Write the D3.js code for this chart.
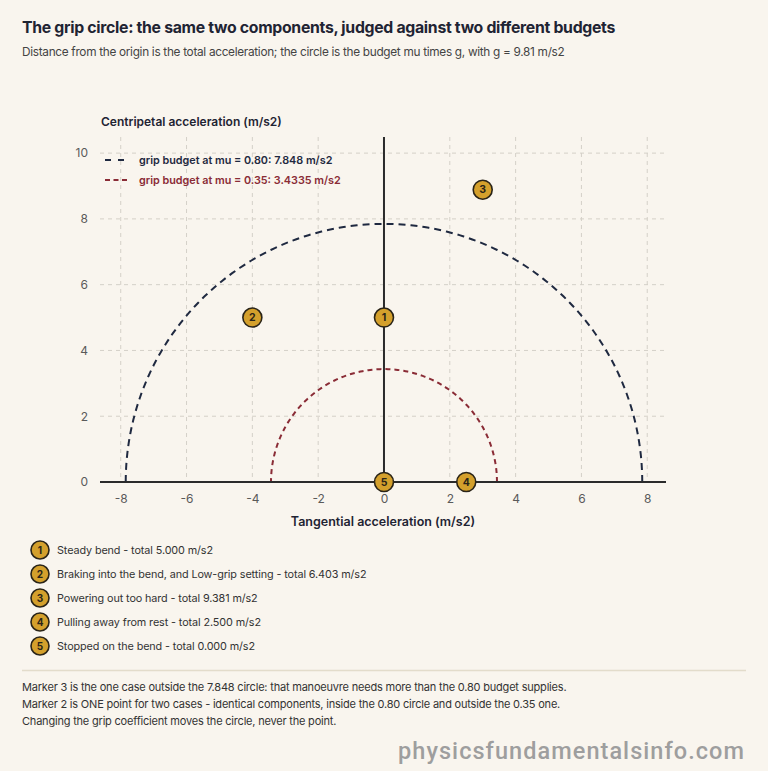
<!DOCTYPE html>
<html><head><meta charset="utf-8">
<script src="https://cdn.jsdelivr.net/npm/d3@7"></script>
<style>
html,body{margin:0;padding:0;background:#f9f5ee;}
svg{display:block;}
</style></head>
<body><svg id="c" width="768" height="771"></svg>
<script>
const g0 = 9.81;
const budgetMu = [0.80, 0.35];
const budgetRadius = [7.848, 3.4335];
const budgetLabels = ["grip budget at mu = 0.80: 7.848 m/s2", "grip budget at mu = 0.35: 3.4335 m/s2"];
const budgetColors = ["#1f2940", "#8a2c36"];
const budgetDash = ["7,5", "5,4"];
const markerIds = [1, 2, 3, 4, 5];
const markerTangential = [0, -4, 3, 2.5, 0];
const markerCentripetal = [5, 5, 8.888, 0, 0];
const markerLabels = [
  "Steady bend - total 5.000 m/s2",
  "Braking into the bend, and Low-grip setting - total 6.403 m/s2",
  "Powering out too hard - total 9.381 m/s2",
  "Pulling away from rest - total 2.500 m/s2",
  "Stopped on the bend - total 0.000 m/s2"
];
const xTicks = [-8, -6, -4, -2, 0, 2, 4, 6, 8];
const yTicks = [0, 2, 4, 6, 8, 10];
const notes = [
  "Marker 3 is the one case outside the 7.848 circle: that manoeuvre needs more than the 0.80 budget supplies.",
  "Marker 2 is ONE point for two cases - identical components, inside the 0.80 circle and outside the 0.35 one.",
  "Changing the grip coefficient moves the circle, never the point."
];

const svg = d3.select("#c");
const FONT = "Inter, 'Noto Sans', sans-serif";
const ink = "#1f2433";
const grey = "#5a5a5a";

svg.append("text").attr("x", 22).attr("y", 33).attr("font-family", FONT)
  .attr("font-size", 15.8).attr("font-weight", 700).attr("fill", ink).attr("letter-spacing", -0.3)
  .text("The grip circle: the same two components, judged against two different budgets");
svg.append("text").attr("x", 22).attr("y", 56).attr("font-family", FONT)
  .attr("font-size", 11.8).attr("fill", "#444").attr("letter-spacing", -0.3)
  .text("Distance from the origin is the total acceleration; the circle is the budget mu times g, with g = 9.81 m/s2");

const x = d3.scaleLinear().domain([-8.63, 8.57]).range([100, 666]);
const y = d3.scaleLinear().domain([0, 10.49]).range([482, 137]);

// grid
const gridG = svg.append("g");
gridG.selectAll(".vg").data(xTicks).join("line")
  .attr("x1", d => x(d)).attr("x2", d => x(d)).attr("y1", y(10.49)).attr("y2", y(0))
  .attr("stroke", "#d4d0c8").attr("stroke-dasharray", "4,4").attr("stroke-width", 1);
gridG.selectAll(".hg").data(yTicks).join("line")
  .attr("x1", 100).attr("x2", 666).attr("y1", d => y(d)).attr("y2", d => y(d))
  .attr("stroke", "#d4d0c8").attr("stroke-dasharray", "4,4").attr("stroke-width", 1);

// axes
const fmt = d => String(d);
const xAxis = d3.axisBottom(x).tickValues(xTicks).tickSize(0).tickPadding(12).tickFormat(fmt);
const xa = svg.append("g").attr("transform", `translate(0,${y(0)})`).call(xAxis);
xa.select(".domain").remove();
xa.selectAll("text").attr("font-family", FONT).attr("font-size", 12).attr("fill", grey);
const yAxis = d3.axisLeft(y).tickValues(yTicks).tickSize(0).tickPadding(12).tickFormat(fmt);
const ya = svg.append("g").attr("transform", `translate(100,0)`).call(yAxis);
ya.select(".domain").remove();
ya.selectAll("text").attr("font-family", FONT).attr("font-size", 12).attr("fill", grey);

// circles (upper half)
const arc = d3.line().x(d => x(d[0])).y(d => y(d[1]));
budgetRadius.forEach((r, i) => {
  const pts = d3.range(0, 181, 1).map(a => [r * Math.cos(a * Math.PI / 180), r * Math.sin(a * Math.PI / 180)]);
  svg.append("path").attr("d", arc(pts)).attr("fill", "none")
    .attr("stroke", budgetColors[i]).attr("stroke-width", 2).attr("stroke-dasharray", budgetDash[i]);
});

// axis lines through origin
svg.append("line").attr("x1", 100).attr("x2", 666).attr("y1", y(0)).attr("y2", y(0))
  .attr("stroke", "#2b2b2b").attr("stroke-width", 2);
svg.append("line").attr("x1", x(0)).attr("x2", x(0)).attr("y1", y(10.49)).attr("y2", y(0))
  .attr("stroke", "#2b2b2b").attr("stroke-width", 2);

svg.append("text").attr("x", 101).attr("y", 126).attr("font-family", FONT).attr("font-size", 12)
  .attr("font-weight", 600).attr("fill", ink).text("Centripetal acceleration (m/s2)");
svg.append("text").attr("x", 383).attr("y", 526).attr("text-anchor", "middle").attr("font-family", FONT)
  .attr("font-size", 12.5).attr("font-weight", 600).attr("fill", ink).text("Tangential acceleration (m/s2)");

// legend
budgetLabels.forEach((t, i) => {
  const ly = 160 + i * 20;
  svg.append("line").attr("x1", 105).attr("x2", 129).attr("y1", ly).attr("y2", ly)
    .attr("stroke", budgetColors[i]).attr("stroke-width", 2).attr("stroke-dasharray", i === 0 ? "6,7" : "5,3.5");
  svg.append("text").attr("x", 139).attr("y", ly + 4).attr("font-family", FONT).attr("font-size", 10.8)
    .attr("font-weight", 600).attr("fill", budgetColors[i]).text(t);
});

// markers
const mk = svg.append("g").selectAll("g").data(markerIds).join("g")
  .attr("transform", (d, i) => `translate(${x(markerTangential[i])},${y(markerCentripetal[i])})`);
mk.append("circle").attr("r", 9.5).attr("fill", "#d4a02c").attr("stroke", "#2a2418").attr("stroke-width", 1.6);
mk.append("text").attr("text-anchor", "middle").attr("dy", "0.36em").attr("font-family", FONT)
  .attr("font-size", 10.5).attr("font-weight", 700).attr("fill", "#2a2418").text(d => d);

// key
const key = svg.append("g").selectAll("g").data(markerIds).join("g")
  .attr("transform", (d, i) => `translate(40,${550 + i * 24})`);
key.append("circle").attr("r", 9).attr("fill", "#d4a02c").attr("stroke", "#2a2418").attr("stroke-width", 1.6);
key.append("text").attr("text-anchor", "middle").attr("dy", "0.36em").attr("font-family", FONT)
  .attr("font-size", 10).attr("font-weight", 700).attr("fill", "#2a2418").text(d => d);
key.append("text").attr("x", 17).attr("dy", "0.36em").attr("font-family", FONT).attr("font-size", 10.8)
  .attr("fill", "#333").attr("letter-spacing", -0.1).text((d, i) => markerLabels[i]);

// separator
svg.append("line").attr("x1", 22).attr("x2", 746).attr("y1", 670.5).attr("y2", 670.5)
  .attr("stroke", "#e3dccb").attr("stroke-width", 1.5);

notes.forEach((t, i) => {
  svg.append("text").attr("x", 22).attr("y", 691 + i * 17).attr("font-family", FONT).attr("font-size", 11)
    .attr("fill", "#333").attr("letter-spacing", -0.2).text(t);
});

svg.append("text").attr("x", 745).attr("y", 759).attr("text-anchor", "end").attr("font-family", "Roboto, sans-serif")
  .attr("font-size", 23.5).attr("font-weight", 500).attr("fill", "#9e9e9e").attr("letter-spacing", 1.05)
  .text("physicsfundamentalsinfo.com");
</script></body></html>
